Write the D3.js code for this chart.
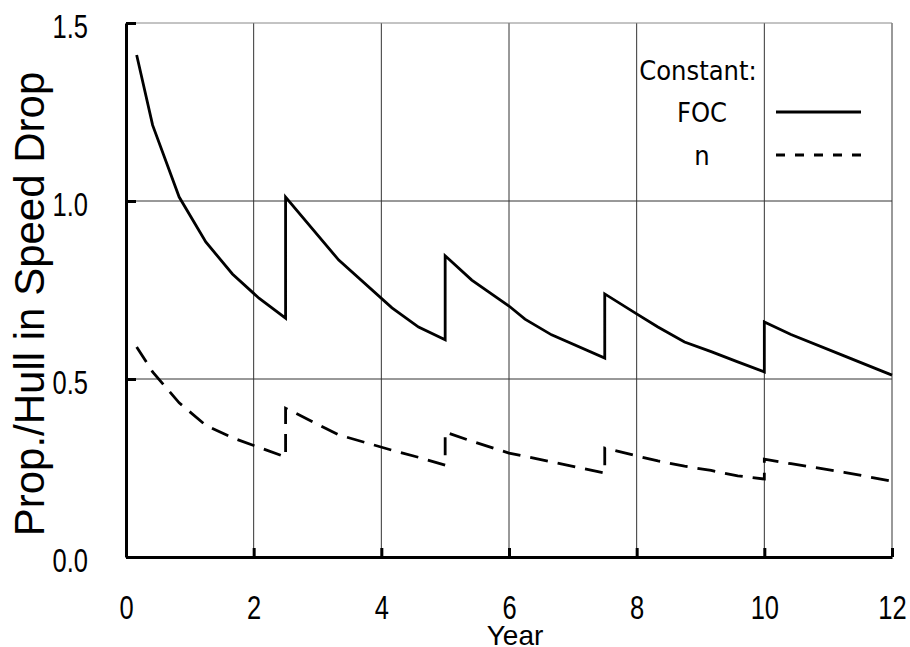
<!DOCTYPE html>
<html>
<head>
<meta charset="utf-8">
<script src="https://cdn.jsdelivr.net/npm/d3@7"></script>
<style>
  body { margin: 0; background: #fff; }
  svg { display: block; }
  .tick text { font-family: "Liberation Sans", Arial, sans-serif; }
</style>
</head>
<body>
<div id="chart"></div>
<script>
// years since delivery, same sampling for both series (vertical jumps at dry-docking)
var years = [0.167, 0.417, 0.833, 1.25, 1.667, 2.083, 2.5, 2.5, 3.333, 4.167, 4.583, 5, 5,
  5.417, 6, 6.25, 6.667, 7.5, 7.5, 8, 8.333, 8.75, 9.167, 9.583, 10, 10, 10.417, 11.25, 12];
var focConst = [1.41, 1.213, 1.011, 0.885, 0.795, 0.727, 0.671, 1.011, 0.834, 0.70, 0.646, 0.61, 0.846,
  0.778, 0.705, 0.668, 0.624, 0.559, 0.739, 0.683, 0.646, 0.604, 0.577, 0.548, 0.52, 0.66, 0.625, 0.565, 0.511];
var nConst = [0.59, 0.52, 0.433, 0.37, 0.335, 0.308, 0.281, 0.418, 0.343, 0.30, 0.28, 0.258, 0.351,
  0.325, 0.292, 0.283, 0.267, 0.236, 0.306, 0.284, 0.27, 0.255, 0.243, 0.228, 0.219, 0.275, 0.262, 0.238, 0.213];
var xTicks = [0, 2, 4, 6, 8, 10, 12];
var yTicks = [0, 0.5, 1.0, 1.5];
var legendLabels = ["FOC", "n"];

var W = 910, H = 647;
var plotL = 126, plotR = 892, plotT = 23, plotB = 557;
var narrow = 0.75; // horizontal squeeze for the tick labels

var svg = d3.select("#chart").append("svg")
    .attr("width", W)
    .attr("height", H);

var x = d3.scaleLinear().domain([0, 12]).range([plotL, plotR]);
var y = d3.scaleLinear().domain([0, 1.5]).range([plotB, plotT]);

// grid
svg.append("g").selectAll("line")
    .data(xTicks.slice(1))
    .enter().append("line")
    .attr("x1", d => x(d)).attr("x2", d => x(d))
    .attr("y1", y(0)).attr("y2", y(1.5))
    .attr("stroke", d => d == 12 ? "#777" : "#333")
    .attr("stroke-width", d => d == 12 ? 1.5 : 1);

svg.append("g").selectAll("line")
    .data(yTicks.slice(1))
    .enter().append("line")
    .attr("x1", x(0)).attr("x2", x(12))
    .attr("y1", d => y(d)).attr("y2", d => y(d))
    .attr("stroke", d => d == 1.5 ? "#888" : "#333")
    .attr("stroke-width", 1);

// axes
var yAxis = svg.append("g")
    .attr("transform", "translate(" + plotL + ",0)")
    .call(d3.axisLeft(y).tickValues(yTicks).tickFormat(d3.format(".1f"))
      .tickSize(-10).tickSizeOuter(0).tickPadding(38));
var xAxis = svg.append("g")
    .attr("transform", "translate(0," + plotB + ")")
    .call(d3.axisBottom(x).tickValues(xTicks).tickFormat(d3.format("d"))
      .tickSize(-9).tickSizeOuter(0).tickPadding(38));

[yAxis, xAxis].forEach(function(g) {
  g.select(".domain").attr("stroke", "#000").attr("stroke-width", 3);
  g.selectAll(".tick line").attr("stroke", "#000").attr("stroke-width", 3);
  g.selectAll(".tick text")
    .attr("fill", "#000")
    .style("font-size", "34px")
    .attr("transform", "scale(" + narrow + ",1)");
});
yAxis.selectAll(".tick text").attr("x", -38 / narrow).attr("dy", "0.42em");

// series
var line = d3.line()
    .x(d => x(d[0]))
    .y(d => y(d[1]));

svg.append("path")
    .datum(d3.zip(years, focConst))
    .attr("d", line)
    .attr("fill", "none")
    .attr("stroke", "#000")
    .attr("stroke-width", 2.8);

svg.append("path")
    .datum(d3.zip(years, nConst))
    .attr("d", line)
    .attr("fill", "none")
    .attr("stroke", "#000")
    .attr("stroke-width", 2.8)
    .attr("stroke-dasharray", "18,10");

// legend
var lg = svg.append("g")
    .style("font-family", "'Liberation Sans Narrow', 'DejaVu Sans Condensed', sans-serif")
    .style("font-size", "27px");
lg.append("text")
    .attr("x", 698).attr("y", 80)
    .attr("text-anchor", "middle")
    .text("Constant:");
lg.selectAll("text.lab")
    .data(legendLabels)
    .enter().append("text")
    .attr("class", "lab")
    .attr("x", 702)
    .attr("y", (d, i) => 122 + i * 43)
    .attr("text-anchor", "middle")
    .text(d => d);
lg.selectAll("line")
    .data(legendLabels)
    .enter().append("line")
    .attr("x1", 776).attr("x2", 861)
    .attr("y1", (d, i) => 112 + i * 43).attr("y2", (d, i) => 112 + i * 43)
    .attr("stroke", "#000")
    .attr("stroke-width", 2.8)
    .attr("stroke-dasharray", (d, i) => i ? "9,10" : null);

// axis titles
svg.append("text")
    .attr("x", 515).attr("y", 645)
    .attr("text-anchor", "middle")
    .style("font-family", "'Liberation Sans', Arial, sans-serif")
    .style("font-size", "28px")
    .text("Year");

svg.append("text")
    .attr("transform", "translate(44,304) rotate(-90)")
    .attr("text-anchor", "middle")
    .style("font-family", "'Liberation Sans', Arial, sans-serif")
    .style("font-size", "42px")
    .text("Prop./Hull in Speed Drop");
</script>
</body>
</html>
